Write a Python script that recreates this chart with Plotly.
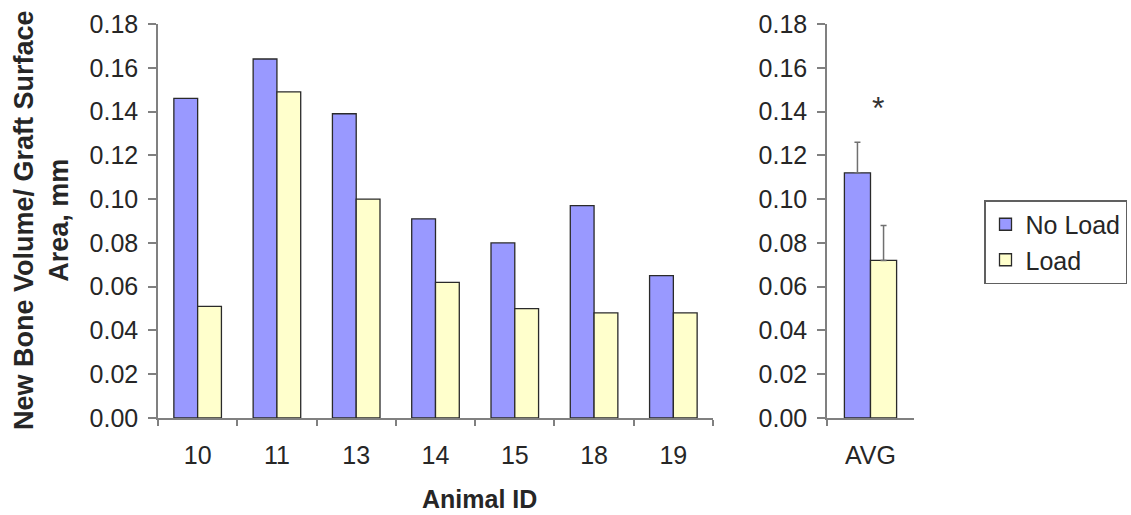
import plotly.graph_objects as go

# Per-animal measurements (new bone volume / graft surface area, mm)
animal_ids = ["10", "11", "13", "14", "15", "18", "19"]
no_load = [0.146, 0.164, 0.139, 0.091, 0.080, 0.097, 0.065]
load = [0.051, 0.149, 0.100, 0.062, 0.050, 0.048, 0.048]

# Group averages with upper error bars
avg_label = ["AVG"]
avg_no_load = [0.112]
avg_load = [0.072]
err_no_load = [0.014]
err_load = [0.016]

y_ticks = [0.00, 0.02, 0.04, 0.06, 0.08, 0.10, 0.12, 0.14, 0.16, 0.18]

BLUE = "#9999FF"
YELLOW = "#FFFFCC"
OUTLINE = "#2a2a2a"
AXIS = "#808080"
TEXT = "#262626"
FONT = "Arial, Liberation Sans, sans-serif"

W, H = 1131, 515

fig = go.Figure()

fig.add_trace(go.Bar(
    x=animal_ids, y=no_load, name="No Load",
    marker=dict(color=BLUE, line=dict(color=OUTLINE, width=1.3)),
    xaxis="x", yaxis="y", legendgroup="nl",
))
fig.add_trace(go.Bar(
    x=animal_ids, y=load, name="Load",
    marker=dict(color=YELLOW, line=dict(color=OUTLINE, width=1.3)),
    xaxis="x", yaxis="y", legendgroup="l",
))
fig.add_trace(go.Bar(
    x=avg_label, y=avg_no_load, name="No Load", showlegend=False,
    marker=dict(color=BLUE, line=dict(color=OUTLINE, width=1.3)),
    error_y=dict(type="data", symmetric=False, array=err_no_load, arrayminus=[0],
                 color="#707070", thickness=1.5, width=3),
    xaxis="x2", yaxis="y2", legendgroup="nl",
))
fig.add_trace(go.Bar(
    x=avg_label, y=avg_load, name="Load", showlegend=False,
    marker=dict(color=YELLOW, line=dict(color=OUTLINE, width=1.3)),
    error_y=dict(type="data", symmetric=False, array=err_load, arrayminus=[0],
                 color="#707070", thickness=1.5, width=3),
    xaxis="x2", yaxis="y2", legendgroup="l",
))


def px_x(p):
    return p / W


def px_y(p):
    return (H - p) / H


y_dom = [px_y(418), px_y(24)]

yaxis_common = dict(
    range=[0, 0.18], tickvals=y_ticks, tickformat=".2f",
    showgrid=False, zeroline=False, automargin=False,
    showline=True, linecolor=AXIS, linewidth=1.5,
    ticks="outside", ticklen=8, tickcolor=AXIS, tickwidth=1.5,
    ticklabelstandoff=5,
    tickfont=dict(family=FONT, size=25, color=TEXT),
    domain=y_dom,
)
xaxis_common = dict(
    type="category", showgrid=False, zeroline=False, automargin=False,
    showline=True, linecolor=AXIS, linewidth=1.5,
    ticks="outside", ticklen=6, tickcolor=AXIS, tickwidth=1.5,
    tickson="boundaries", ticklabelstandoff=14,
    tickfont=dict(family=FONT, size=25, color=TEXT),
)

fig.update_layout(
    width=W, height=H,
    margin=dict(l=0, r=0, t=0, b=0, autoexpand=False),
    paper_bgcolor="white", plot_bgcolor="white",
    barmode="group",
    bargap=0.40,
    font=dict(family=FONT, color=TEXT),
    xaxis=dict(xaxis_common, domain=[px_x(158), px_x(713)], anchor="y"),
    yaxis=dict(yaxis_common, anchor="x"),
    xaxis2=dict(xaxis_common, domain=[px_x(827), px_x(914)], anchor="y2"),
    yaxis2=dict(yaxis_common, anchor="x2"),
    legend=dict(
        x=px_x(984), y=px_y(200), xanchor="left", yanchor="top",
        bordercolor="#606060", borderwidth=1.5, bgcolor="white",
        font=dict(family=FONT, size=25, color=TEXT),
        traceorder="normal", tracegroupgap=0, itemwidth=30,
    ),
    annotations=[
        dict(
            text="<b>New Bone Volume/ Graft Surface<br>Area, mm</b>",
            x=px_x(41), y=px_y(220), xref="paper", yref="paper",
            xanchor="center", yanchor="middle", textangle=-90,
            showarrow=False, font=dict(family=FONT, size=27, color=TEXT),
        ),
        dict(
            text="<b>Animal ID</b>",
            x=px_x(479), y=px_y(499), xref="paper", yref="paper",
            xanchor="center", yanchor="middle",
            showarrow=False, font=dict(family=FONT, size=25, color=TEXT),
        ),
        dict(
            text="*", x="AVG", y=0.1415, xref="x2", yref="y2",
            xshift=7, xanchor="center", yanchor="middle",
            showarrow=False, font=dict(family=FONT, size=32, color="#333333"),
        ),
    ],
)

fig.write_html("out.html")
